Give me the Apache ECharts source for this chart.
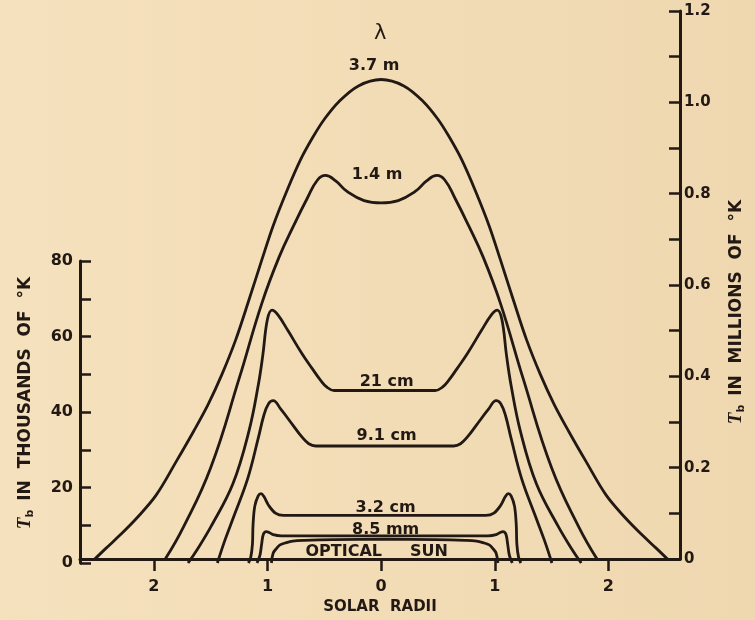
<!DOCTYPE html>
<html>
<head>
<meta charset="utf-8">
<title>Solar brightness temperature</title>
<script src="https://cdn.jsdelivr.net/npm/echarts@6.0.0/dist/echarts.min.js"></script>
<style>
  html, body { margin: 0; padding: 0; background: #f2ddb6; }
  #chart { width: 755px; height: 620px; }
</style>
</head>
<body>
<div id="chart"></div>
<script>
// 太阳射电亮温度分布 (solar radii -> Tb)
// 3.7 m and 1.4 m read on right axis (millions of K), the rest on left axis (thousands of K)
var x37 = [-2.52,-2.42,-2.30,-2.15,-1.98,-1.80,-1.65,-1.52,-1.40,-1.28,-1.16,-1.05,-0.95,-0.83,-0.71,-0.60,-0.50,-0.37,-0.20,0,0.20,0.37,0.50,0.60,0.71,0.83,0.95,1.05,1.16,1.28,1.40,1.52,1.65,1.80,1.98,2.15,2.30,2.42,2.52];
var t37 = [0,0.024,0.052,0.09,0.14,0.215,0.28,0.34,0.405,0.48,0.57,0.655,0.73,0.806,0.874,0.924,0.963,1.002,1.036,1.05,1.036,1.002,0.963,0.924,0.874,0.806,0.73,0.655,0.57,0.48,0.405,0.34,0.28,0.215,0.14,0.09,0.052,0.024,0];

var x14 = [-1.90,-1.74,-1.50,-1.25,-1.05,-0.90,-0.77,-0.65,-0.56,-0.49,-0.40,-0.30,-0.15,0,0.15,0.30,0.40,0.49,0.56,0.65,0.77,0.90,1.05,1.25,1.50,1.74,1.90];
var t14 = [0,0.07,0.20,0.395,0.56,0.66,0.73,0.79,0.83,0.84,0.828,0.805,0.785,0.78,0.785,0.805,0.828,0.84,0.83,0.79,0.73,0.66,0.56,0.395,0.20,0.07,0];

var x21 = [-1.71,-1.63,-1.51,-1.32,-1.18,-1.10,-1.06,-1.02,-0.98,-0.93,-0.84,-0.72,-0.63,-0.56,-0.50,-0.44,0,0.44,0.50,0.56,0.63,0.72,0.84,0.93,0.98,1.02,1.06,1.10,1.18,1.32,1.51,1.63,1.71];
var t21 = [0,3.6,9.7,21,35,47,55,64.5,67,65.8,61.5,55.5,51.5,48.5,46.5,45.7,45.7,45.7,46.5,48.5,51.5,55.5,61.5,65.8,67,64.5,55,47,35,21,9.7,3.6,0];

var x91 = [-1.455,-1.39,-1.31,-1.19,-1.10,-1.05,-1.01,-0.97,-0.90,-0.80,-0.72,-0.66,-0.60,0,0.60,0.66,0.72,0.80,0.90,0.97,1.01,1.05,1.10,1.19,1.31,1.39,1.455];
var t91 = [0,6,12.5,22.5,33,39.2,42.2,43,40.6,36.6,33.4,31.6,31,31,31,31.6,33.4,36.6,40.6,43,42.2,39.2,33,22.5,12.5,6,0];

var x32 = [-1.185,-1.165,-1.15,-1.145,-1.13,-1.10,-1.075,-1.05,-1.01,-0.95,-0.88,0,0.88,0.95,1.01,1.05,1.075,1.10,1.13,1.145,1.15,1.165,1.185];
var t32 = [0,1.5,5,10,15,17.8,18.4,17.6,15.3,13.2,12.6,12.6,12.6,13.2,15.3,17.6,18.4,17.8,15,10,5,1.5,0];

var x85 = [-1.11,-1.085,-1.07,-1.055,-1.03,-1.0,-0.97,-0.9,0,0.9,0.97,1.0,1.03,1.055,1.07,1.085,1.11];
var t85 = [0,2,5,7.6,8.3,8.0,7.5,7.2,7.2,7.2,7.5,8.0,8.3,7.6,5,2,0];

var xOpt = [-0.985,-0.97,-0.94,-0.91,-0.855,-0.8,-0.7,-0.45,0,0.45,0.7,0.8,0.855,0.91,0.94,0.97,0.985];
var tOpt = [0,2.6,3.9,4.8,5.4,5.8,6.0,6.2,6.3,6.2,6.0,5.8,5.4,4.8,3.9,2.6,0];

var xTicks = [-2, -1, 0, 1, 2];
var curveNames = ['3.7 m', '1.4 m', '21 cm', '9.1 cm', '3.2 cm', '8.5 mm', 'OPTICAL     SUN'];

var INK = '#221914';
var FONT = '"DejaVu Sans", sans-serif';

// label sits on the centre point (x = 0) of each curve
function makeData(xs, ys, name, pos, dist, dx) {
  return xs.map(function (x, i) {
    if (x === 0) {
      return {
        value: [x, ys[i]],
        label: {
          show: true, formatter: name, position: pos, distance: dist, offset: [dx, 0],
          color: INK, fontFamily: FONT, fontWeight: 'bold', fontSize: 16
        }
      };
    }
    return [x, ys[i]];
  });
}

function curve(name, xs, ys, gridIdx, smooth, pos, dist, dx) {
  return {
    name: name,
    type: 'line',
    xAxisIndex: gridIdx,
    yAxisIndex: gridIdx,
    smooth: smooth,
    symbol: 'circle',
    symbolSize: 0,
    showSymbol: true,
    clip: false,
    lineStyle: { color: INK, width: 2.8 },
    itemStyle: { color: INK },
    data: makeData(xs, ys, name, pos, dist, dx)
  };
}

var nameRich = {
  t: { fontStyle: 'italic', fontSize: 19, color: INK, fontFamily: 'serif' },
  s: { fontSize: 11, color: INK, padding: [10, 3, 0, 0], fontFamily: FONT, fontWeight: 'bold' }
};

var myChart = echarts.init(document.getElementById('chart'));
myChart.setOption({
  animation: false,
  backgroundColor: {
    type: 'linear', x: 0, y: 0, x2: 1, y2: 0,
    colorStops: [{ offset: 0, color: '#f5e1bd' }, { offset: 1, color: '#efd8b0' }]
  },
  title: {
    text: 'λ',
    left: 374, top: 23, padding: 0,
    textStyle: { color: INK, fontFamily: FONT, fontWeight: 'normal', fontSize: 21 }
  },
  grid: [
    { left: 80, right: 68, top: 11, bottom: 57 },
    { left: 80, right: 68, top: 261, bottom: 57 }
  ],
  xAxis: [
    {
      type: 'value', gridIndex: 0, min: -2.65, max: 2.63,
      splitLine: { show: false },
      axisLine: { show: true, onZero: false, lineStyle: { color: INK, width: 3 } },
      axisTick: { show: true, customValues: xTicks, length: 12, lineStyle: { color: INK, width: 2.5 } },
      axisLabel: {
        customValues: xTicks, margin: 20, color: INK, fontFamily: FONT, fontWeight: 'bold', fontSize: 16,
        formatter: function (v) { return String(Math.abs(v)); }
      },
      name: 'SOLAR  RADII', nameLocation: 'middle', nameGap: 39,
      nameTextStyle: { color: INK, fontFamily: FONT, fontWeight: 'bold', fontSize: 15 }
    },
    { type: 'value', gridIndex: 1, min: -2.65, max: 2.63, show: false }
  ],
  yAxis: [
    {
      type: 'value', gridIndex: 0, position: 'right', min: 0, max: 1.2, interval: 0.2,
      splitLine: { show: false },
      axisLine: { show: true, onZero: false, lineStyle: { color: INK, width: 3 } },
      axisTick: { show: true, inside: true, length: 11, lineStyle: { color: INK, width: 2.5 } },
      minorTick: { show: true, splitNumber: 2, length: 11, lineStyle: { color: INK, width: 2.5 } },
      axisLabel: {
        margin: 4, color: INK, fontFamily: FONT, fontWeight: 'bold', fontSize: 15,
        formatter: function (v) { return v === 0 ? '0' : v.toFixed(1); }
      },
      name: '{t|T}{s|b} IN  MILLIONS  OF  °K', nameLocation: 'middle', nameGap: 46, nameRotate: 90,
      nameTextStyle: {
        color: INK, fontFamily: FONT, fontWeight: 'bold', fontSize: 17,
        padding: [0, 54, 0, 0],
        rich: nameRich
      }
    },
    {
      type: 'value', gridIndex: 1, position: 'left', min: 0, max: 80, interval: 20,
      splitLine: { show: false },
      axisLine: { show: true, onZero: false, lineStyle: { color: INK, width: 3 } },
      axisTick: { show: true, inside: true, length: 11, lineStyle: { color: INK, width: 2.5 } },
      minorTick: { show: true, splitNumber: 2, length: 11, lineStyle: { color: INK, width: 2.5 } },
      axisLabel: { margin: 7, color: INK, fontFamily: FONT, fontWeight: 'bold', fontSize: 16 },
      name: '{t|T}{s|b} IN  THOUSANDS  OF  °K', nameLocation: 'middle', nameGap: 44, nameRotate: 90,
      nameTextStyle: {
        color: INK, fontFamily: FONT, fontWeight: 'bold', fontSize: 17,
        padding: [0, 0, 0, 18],
        rich: nameRich
      }
    }
  ],
  series: [
    curve(curveNames[0], x37, t37, 0, 0.35, 'top', 6, -7),
    curve(curveNames[1], x14, t14, 0, 0.45, 'top', 20, -4),
    curve(curveNames[2], x21, t21, 1, 0.4, 'top', 1, 2),
    curve(curveNames[3], x91, t91, 1, 0.4, 'top', 2, 2),
    curve(curveNames[4], x32, t32, 1, 0.35, 'top', 0, 1),
    curve(curveNames[5], x85, t85, 1, 0.35, 'top', -2, 1),
    curve(curveNames[6], xOpt, tOpt, 1, 0.35, 'bottom', 5, -8)
  ]
});
</script>
</body>
</html>
